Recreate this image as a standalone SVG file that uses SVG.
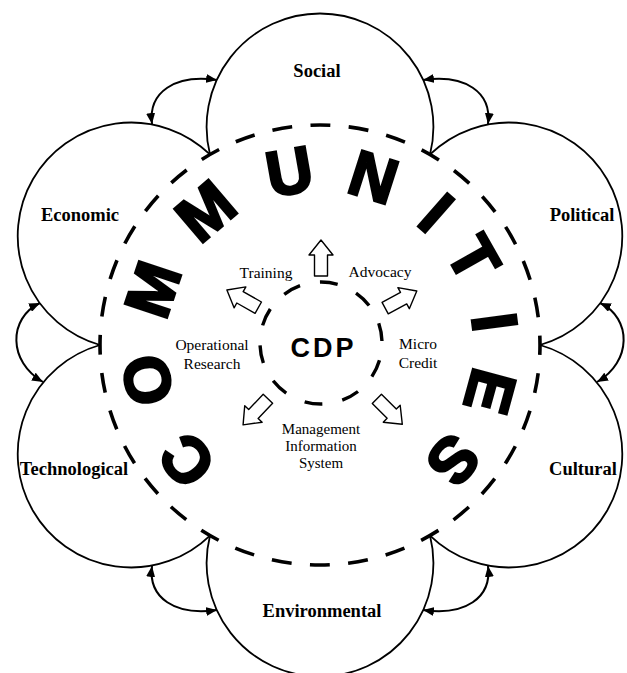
<svg xmlns="http://www.w3.org/2000/svg" width="627" height="673" viewBox="0 0 627 673">
<style>
.petal{fill:none;stroke:#000;stroke-width:1.8}
.pl{font-family:"Liberation Serif","Times New Roman",serif;font-weight:bold;font-size:18.5px;text-anchor:middle;fill:#000}
.lb{font-family:"Liberation Serif","Times New Roman",serif;font-size:15.5px;text-anchor:middle;fill:#000}
.lbs{font-family:"Liberation Serif","Times New Roman",serif;font-size:15px;text-anchor:middle;fill:#000}
.big{font-family:"Liberation Sans",Arial,sans-serif;font-weight:bold;font-size:64px;text-anchor:middle;fill:#000;stroke:#000;stroke-width:2.6;stroke-linejoin:miter}
.cdp{font-family:"Liberation Sans",Arial,sans-serif;font-weight:bold;font-size:27px;letter-spacing:3px;text-anchor:middle;fill:#000}
.conn{fill:none;stroke:#000;stroke-width:2;marker-start:url(#ah);marker-end:url(#ah)}
.ha{fill:#fff;stroke:#000;stroke-width:1.4;stroke-linejoin:round}
.dash{fill:none;stroke:#000}
</style>
<defs>
<marker id="ah" viewBox="0 0 11 9" refX="11" refY="4.5" markerWidth="11" markerHeight="9" markerUnits="userSpaceOnUse" orient="auto-start-reverse"><path d="M0,0 L11,4.5 L0,9 Z" fill="#000"/></marker>
<path id="harrow" d="M0,-36 L12,-21 L6.5,-21 L6.5,0 L-6.5,0 L-6.5,-21 L-12,-21 Z"/>
<path id="arc" d="M210,154.47 A113.4,113.4 0 1 1 430,154.47"/>
</defs>
<rect width="627" height="673" fill="#fff"/>

<g id="petal-social"><use href="#arc" class="petal"/><text class="pl" x="317" y="77">Social</text></g>
<g id="petal-political"><use href="#arc" class="petal" transform="rotate(60,320,345)"/><text class="pl" x="582" y="221">Political</text></g>
<g id="petal-cultural"><use href="#arc" class="petal" transform="rotate(120,320,345)"/><text class="pl" x="583" y="475">Cultural</text></g>
<g id="petal-environmental"><use href="#arc" class="petal" transform="rotate(180,320,345)"/><text class="pl" x="322" y="617">Environmental</text></g>
<g id="petal-technological"><use href="#arc" class="petal" transform="rotate(240,320,345)"/><text class="pl" x="74" y="475">Technological</text></g>
<g id="petal-economic"><use href="#arc" class="petal" transform="rotate(300,320,345)"/><text class="pl" x="80" y="221">Economic</text></g>

<g id="communities">
<circle class="dash" cx="320" cy="345" r="220" stroke-width="3.6" stroke-dasharray="20 18.397" stroke-dashoffset="10"/>
<text class="big" x="320" y="191" transform="rotate(229,320,345)">C</text>
<text class="big" x="320" y="191" transform="rotate(258.5,320,345)">O</text>
<text class="big" x="320" y="191" transform="rotate(288.4,320,345)">M</text>
<text class="big" x="320" y="191" transform="rotate(319.5,320,345)">M</text>
<text class="big" x="320" y="191" transform="rotate(350,320,345)">U</text>
<text class="big" x="320" y="191" transform="rotate(17.7,320,345)">N</text>
<text class="big" x="320" y="191" transform="rotate(41.3,320,345)">I</text>
<text class="big" x="320" y="191" transform="rotate(60.5,320,345)">T</text>
<text class="big" x="320" y="191" transform="rotate(82.6,320,345)">I</text>
<text class="big" x="320" y="191" transform="rotate(105.3,320,345)">E</text>
<text class="big" x="320" y="191" transform="rotate(130.8,320,345)">S</text>
</g>

<g id="cdp">
<circle class="dash" cx="321" cy="343" r="61" stroke-width="3.4" stroke-dasharray="18 20.327" stroke-dashoffset="20.7"/>
<text class="cdp" x="323.5" y="357">CDP</text>
</g>

<g id="activities">
<use href="#harrow" class="ha" transform="translate(321,343) rotate(0) translate(0,-67)"/>
<use href="#harrow" class="ha" transform="translate(321,343) rotate(-60.6) translate(0,-72)"/>
<use href="#harrow" class="ha" transform="translate(321,343) rotate(61.5) translate(0,-73)"/>
<use href="#harrow" class="ha" transform="translate(321,343) rotate(223.6) translate(0,-77)"/>
<use href="#harrow" class="ha" transform="translate(321,343) rotate(135) translate(0,-79)"/>
<text class="lb" x="266" y="278">Training</text>
<text class="lb" x="380" y="277">Advocacy</text>
<text class="lb" x="212" y="350">Operational</text>
<text class="lb" x="212" y="369">Research</text>
<text class="lb" x="418" y="349">Micro</text>
<text class="lb" x="418" y="368">Credit</text>
<text class="lbs" x="321" y="434">Management</text>
<text class="lbs" x="321" y="451">Information</text>
<text class="lbs" x="321" y="468">System</text>
</g>

<g id="connectors">
<path class="conn" d="M152,124 C148,92 175,74 217,80"/>
<path class="conn" d="M488,124 C492,92 465,74 423,80"/>
<path class="conn" d="M40,303 C8,318 8,362 43,382"/>
<path class="conn" d="M600,303 C632,318 632,362 597,382"/>
<path class="conn" d="M152,566 C148,598 175,616 217,610"/>
<path class="conn" d="M488,566 C492,598 465,616 423,610"/>
</g>
</svg>
